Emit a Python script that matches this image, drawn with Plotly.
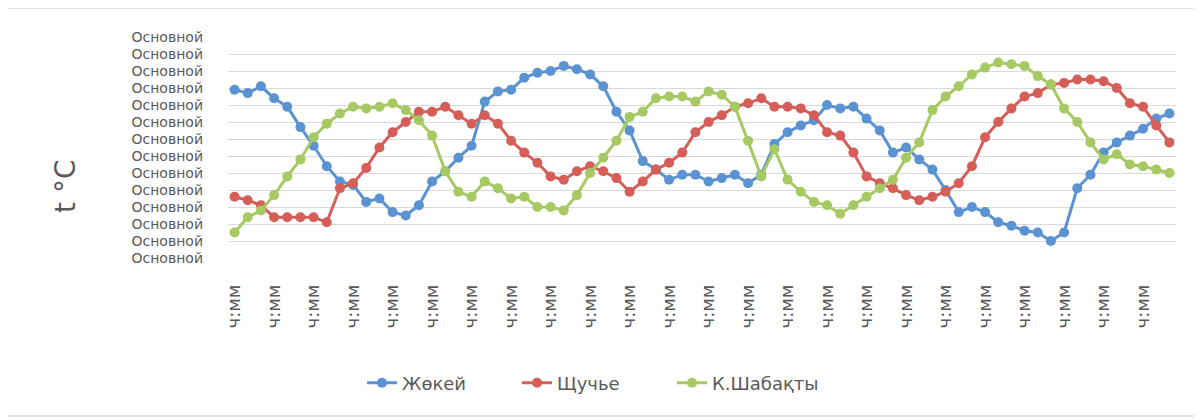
import plotly.graph_objects as go

# category positions (72 readings), every 3rd one labelled
n_points = 72
x_idx = list(range(n_points))
tick_label = "ч:мм"
y_tick_label = "Основной"

zhokey = [9.9, 9.7, 10.1, 9.4, 8.9, 7.7, 6.6, 5.4, 4.5, 4.3,
          3.3, 3.5, 2.7, 2.5, 3.1, 4.5, 5.1, 5.9, 6.6, 9.2,
          9.8, 9.9, 10.6, 10.9, 11.0, 11.3, 11.1, 10.8, 10.1, 8.6,
          7.5, 5.7, 5.2, 4.6, 4.9, 4.9, 4.5, 4.7, 4.9, 4.4,
          4.9, 6.7, 7.4, 7.8, 8.1, 9.0, 8.8, 8.9, 8.2, 7.5,
          6.2, 6.5, 5.8, 5.2, 4.0, 2.7, 3.0, 2.7, 2.1, 1.9,
          1.6, 1.5, 1.0, 1.5, 4.1, 4.9, 6.2, 6.8, 7.2, 7.6,
          8.2, 8.5]

shchuchye = [3.6, 3.4, 3.1, 2.4, 2.4, 2.4, 2.4, 2.1, 4.1, 4.4,
             5.3, 6.5, 7.4, 8.0, 8.6, 8.6, 8.9, 8.4, 7.9, 8.4,
             7.9, 6.9, 6.2, 5.6, 4.8, 4.6, 5.1, 5.4, 5.1, 4.7,
             3.9, 4.5, 5.2, 5.6, 6.2, 7.4, 8.0, 8.4, 8.9, 9.1,
             9.4, 8.9, 8.9, 8.8, 8.4, 7.4, 7.2, 6.2, 4.8, 4.4,
             4.1, 3.7, 3.4, 3.6, 3.9, 4.4, 5.4, 7.1, 8.0, 8.8,
             9.5, 9.7, 10.2, 10.3, 10.5, 10.5, 10.4, 10.0, 9.1, 8.9,
             7.8, 6.8]

k_shabakty = [1.5, 2.4, 2.8, 3.7, 4.8, 5.8, 7.1, 7.9, 8.5, 8.9,
              8.8, 8.9, 9.1, 8.7, 8.1, 7.2, 5.1, 3.9, 3.6, 4.5,
              4.1, 3.5, 3.6, 3.0, 3.0, 2.8, 3.7, 5.0, 5.9, 6.9,
              8.3, 8.6, 9.4, 9.5, 9.5, 9.2, 9.8, 9.6, 8.9, 6.9,
              4.8, 6.4, 4.6, 3.9, 3.3, 3.1, 2.6, 3.1, 3.6, 4.1,
              4.6, 5.9, 6.8, 8.7, 9.5, 10.1, 10.8, 11.2, 11.5, 11.4,
              11.3, 10.7, 10.2, 8.8, 8.0, 6.8, 5.8, 6.1, 5.5, 5.4,
              5.2, 5.0]

series = [
    ("Жөкей", zhokey, "#5B93D2"),
    ("Щучье", shchuchye, "#D55E58"),
    ("К.Шабақты", k_shabakty, "#A6C963"),
]

fig = go.Figure()
for name, vals, color in series:
    fig.add_trace(go.Scatter(
        x=x_idx, y=vals, name=name, mode="lines+markers",
        line=dict(color=color, width=3),
        marker=dict(color=color, size=10),
    ))

y_ticks = list(range(0, 14))
x_ticks = x_idx[::3]

# the page body adds an 8px offset, so the figure is laid out 8px smaller
off = 8
W, H = 1202 - off, 420 - off
ml, mt = 228 - off, 37 - off
mr = W - (1176 - off)
mb = H - (258 - off)
pw = W - ml - mr
ph = H - mt - mb


def px_x(x):
    return (x - off - ml) / pw


def px_y(y):
    return (H - mb - (y - off)) / ph


fig.update_layout(
    width=W, height=H,
    margin=dict(l=ml, r=mr, t=mt, b=mb, autoexpand=False),
    paper_bgcolor="white", plot_bgcolor="white",
    font=dict(family="DejaVu Sans", color="#595959"),
    showlegend=True,
    legend=dict(orientation="h", x=px_x(362), xanchor="left",
                y=px_y(383), yanchor="middle",
                font=dict(size=18, color="#595959", family="DejaVu Sans"),
                entrywidth=110, entrywidthmode="pixels", tracegroupgap=0),
    xaxis=dict(range=[-0.5, n_points - 0.5], tickmode="array", tickvals=x_ticks,
               ticktext=[tick_label] * len(x_ticks), tickangle=-90,
               tickfont=dict(size=18, color="#595959"), showgrid=False,
               zeroline=False, showline=False, ticks="", ticklabelstandoff=22,
               automargin=False),
    yaxis=dict(range=[0, 13], tickmode="array", tickvals=y_ticks,
               ticktext=[y_tick_label] * len(y_ticks),
               tickfont=dict(size=14, color="#595959", family="DejaVu Sans"),
               showgrid=True, gridcolor="#D9D9D9", gridwidth=1,
               zeroline=False, showline=False, ticks="", ticklabelstandoff=24,
               automargin=False),
)

fig.add_annotation(text="t °C", xref="paper", yref="paper",
                   x=px_x(65), y=px_y(187),
                   showarrow=False, textangle=-90,
                   font=dict(size=28, color="#595959", family="DejaVu Sans"),
                   xanchor="center", yanchor="middle")

# chart-area border
fig.add_shape(type="rect", xref="paper", yref="paper",
              x0=px_x(4), x1=px_x(1196),
              y0=px_y(416), y1=px_y(8),
              line=dict(color="#D9D9D9", width=1.5), layer="below")

fig.write_html("out.html")
